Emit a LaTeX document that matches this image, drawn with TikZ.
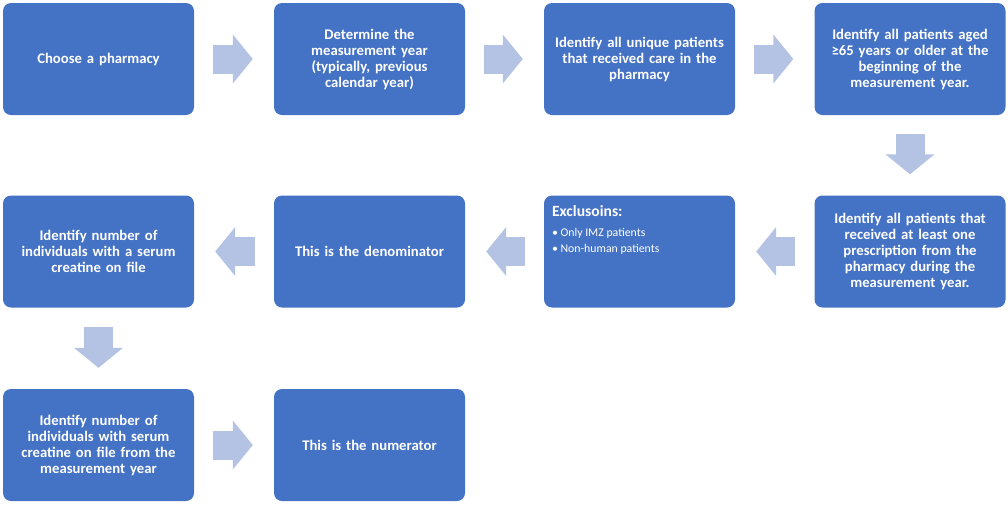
\documentclass[tikz,border=0pt]{standalone}
\usepackage{fontspec}
\setmainfont{Carlito}
\usetikzlibrary{arrows.meta}
\definecolor{boxblue}{HTML}{4472C4}
\definecolor{arrowblue}{HTML}{B4C2E3}

\tikzset{
    stepbox/.style={rectangle, rounded corners=8pt, fill=boxblue, text=white,
        font=\bfseries\fontsize{14.7}{16}\selectfont, minimum width=191pt,
        minimum height=112pt, text width=188pt, align=center, inner sep=0pt},
    blockarrow/.style={draw=arrowblue, line width=29pt,
        -{Triangle[length=20pt, width=48pt, fill=arrowblue]},
        shorten <=19pt, shorten >=21pt},
}

\begin{document}
\begin{tikzpicture}[x=1pt, y=-1pt]
        \useasboundingbox (0, 0) rectangle (1008, 504);

        % first row
        \node[stepbox] (choose) at (98.5, 59) {Choose a pharmacy};
        \node[stepbox] (measyear) at (369.5, 59) {Determine the\\measurement year\\(typically, previous\\calendar year)};
        \node[stepbox] (unique) at (639.5, 59) {Identify all unique patients\\that received care in the\\pharmacy};
        \node[stepbox] (aged) at (910, 59) {Identify all patients aged\\≥65 years or older at the\\beginning of the\\measurement year.};

        % second row
        \node[stepbox] (prescr) at (910, 251.5) {Identify all patients that\\received at least one\\prescription from the\\pharmacy during the\\measurement year.};
        \node[stepbox] (exclusions) at (639.5, 251.5) {};
        \node[anchor=north west, text=white, align=left, inner sep=0pt,
            font=\fontsize{11.8}{16}\selectfont] (excltext) at ([shift={(8, 10)}]exclusions.north west)
            {{\bfseries\fontsize{15.6}{16}\selectfont Exclusoins:}\\[4pt]
             \textbullet\ Only IMZ patients\\
             \textbullet\ Non-human patients};
        \node[stepbox] (denom) at (369.5, 251.5) {This is the denominator};
        \node[stepbox] (serum) at (98.5, 251.5) {Identify number of\\individuals with a serum\\creatine on file};

        % third row
        \node[stepbox] (serumyear) at (98.5, 445) {Identify number of\\individuals with serum\\creatine on file from the\\measurement year};
        \node[stepbox] (numer) at (369.5, 445) {This is the numerator};

        % arrows
        \draw[blockarrow] (choose) -- (measyear);
        \draw[blockarrow] (measyear) -- (unique);
        \draw[blockarrow] (unique) -- (aged);
        \draw[blockarrow] (aged) -- (prescr);
        \draw[blockarrow] (prescr) -- (exclusions);
        \draw[blockarrow] (exclusions) -- (denom);
        \draw[blockarrow] (denom) -- (serum);
        \draw[blockarrow] (serum) -- (serumyear);
        \draw[blockarrow] (serumyear) -- (numer);
    \end{tikzpicture}
\end{document}
